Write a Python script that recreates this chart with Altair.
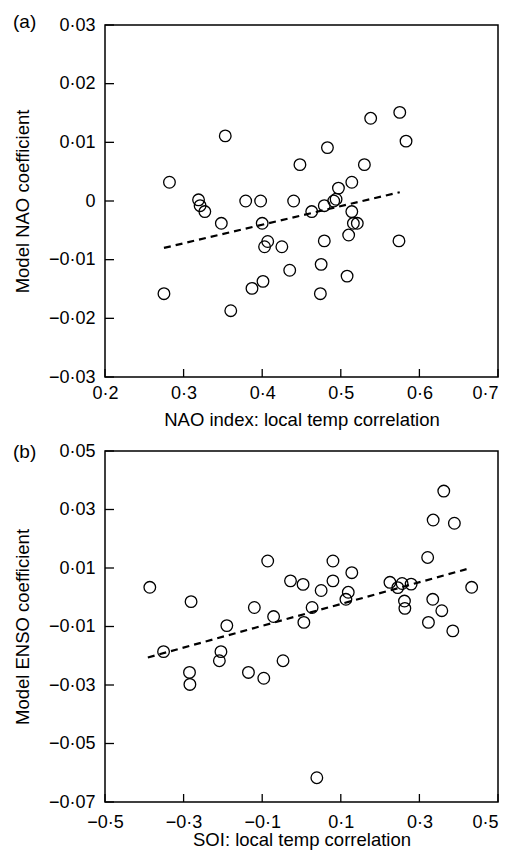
import altair as alt
import pandas as pd

FONT = "Liberation Sans"

# ---------- Panel (a): NAO ----------
nao_x = [0.282, 0.353, 0.319, 0.321, 0.327, 0.379, 0.398, 0.440, 0.448, 0.483,
         0.538, 0.575, 0.583, 0.530, 0.514, 0.497, 0.491, 0.494, 0.463, 0.479,
         0.514, 0.348, 0.400, 0.407, 0.403, 0.425, 0.516, 0.521, 0.510, 0.479,
         0.574, 0.475, 0.435, 0.508, 0.401, 0.387, 0.275, 0.474, 0.360]
nao_y = [0.0032, 0.0111, 0.0002, -0.0008, -0.0018, 0.0000, 0.0000, 0.0000, 0.0062, 0.0091,
         0.0141, 0.0151, 0.0102, 0.0062, 0.0032, 0.0022, 0.0000, 0.0003, -0.0018, -0.0008,
         -0.0018, -0.0038, -0.0038, -0.0069, -0.0078, -0.0078, -0.0038, -0.0038, -0.0058, -0.0068,
         -0.0068, -0.0108, -0.0118, -0.0128, -0.0137, -0.0149, -0.0158, -0.0158, -0.0187]
nao_trend_x = [0.275, 0.575]
nao_trend_y = [-0.0080, 0.0015]
nao_xticks = [0.2, 0.3, 0.4, 0.5, 0.6, 0.7]
nao_yticks = [-0.03, -0.02, -0.01, 0.0, 0.01, 0.02, 0.03]

# ---------- Panel (b): ENSO ----------
soi_x = [-0.386, -0.281, -0.190, -0.120, -0.086, -0.071, -0.028, 0.004, 0.006, 0.027,
         0.050, 0.080, 0.080, 0.113, 0.119, 0.128, 0.225, 0.245, 0.256, 0.279,
         0.262, 0.263, 0.321, 0.335, 0.362, 0.389, 0.334, 0.357, 0.323, 0.385,
         0.433, -0.351, -0.205, -0.209, -0.285, -0.284, -0.135, -0.096, -0.047, 0.039]
soi_y = [0.0034, -0.0015, -0.0097, -0.0035, 0.0124, -0.0066, 0.0056, 0.0044, -0.0086, -0.0035,
         0.0023, 0.0124, 0.0056, -0.0007, 0.0017, 0.0084, 0.0051, 0.0033, 0.0047, 0.0045,
         -0.0013, -0.0038, 0.0136, 0.0264, 0.0363, 0.0253, -0.0007, -0.0046, -0.0086, -0.0115,
         0.0034, -0.0186, -0.0186, -0.0217, -0.0257, -0.0298, -0.0257, -0.0277, -0.0217, -0.0617]
soi_trend_x = [-0.391, 0.420]
soi_trend_y = [-0.0206, 0.0096]
soi_xticks = [-0.5, -0.3, -0.1, 0.1, 0.3, 0.5]
soi_yticks = [-0.07, -0.05, -0.03, -0.01, 0.01, 0.03, 0.05]

W = 393


def lab(fmt):
    return ("abs(datum.value) < 1e-9 ? '0' : "
            f"replace(format(datum.value, '{fmt}'), '.', '·')")


def panel(xs, ys, tx, ty, xt, yt, xtitle, ytitle, tag, xfmt, yfmt, H,
          xlabpad, xtitlepad, tagy):
    xdom = [min(xt), max(xt)]
    ydom = [min(yt), max(yt)]
    xs_ = alt.Scale(domain=xdom, nice=False, zero=False)
    ys_ = alt.Scale(domain=ydom, nice=False, zero=False)
    last = max(xt) - 0.01
    xaxis = alt.Axis(values=xt, title=xtitle, labelExpr=lab(xfmt), ticks=False,
                     domain=False, grid=False, labelPadding=xlabpad, labelFlush=False,
                     labelOverlap=False, titlePadding=xtitlepad,
                     labelAlign={"condition": {"test": f"datum.value > {last}",
                                               "value": "right"},
                                 "value": "center"})
    yaxis = alt.Axis(values=yt, title=ytitle, labelExpr=lab(yfmt), ticks=False,
                     domain=False, grid=False, labelPadding=10, labelFlush=False,
                     labelOverlap=False, titlePadding=16)
    pts = alt.Chart(pd.DataFrame({"x": xs, "y": ys})).mark_point(
        shape="circle", filled=False, size=135, stroke="black",
        strokeWidth=1.3, opacity=1
    ).encode(x=alt.X("x:Q", scale=xs_, axis=xaxis),
             y=alt.Y("y:Q", scale=ys_, axis=yaxis))
    trend = alt.Chart(pd.DataFrame({"x": tx, "y": ty})).mark_line(
        color="black", strokeWidth=2.2, strokeDash=[7, 5]
    ).encode(x=alt.X("x:Q", scale=xs_, axis=xaxis),
             y=alt.Y("y:Q", scale=ys_, axis=yaxis))
    xtk = alt.Chart(pd.DataFrame({"x": xt})).mark_rule(
        color="black", strokeWidth=1.3
    ).encode(x=alt.X("x:Q", scale=xs_, axis=xaxis),
             y=alt.value(H), y2=alt.value(H - 8))
    ytk = alt.Chart(pd.DataFrame({"y": yt})).mark_rule(
        color="black", strokeWidth=1.3
    ).encode(y=alt.Y("y:Q", scale=ys_, axis=yaxis),
             x=alt.value(0), x2=alt.value(9))
    tg = alt.Chart(pd.DataFrame({"t": [tag]})).mark_text(
        align="left", baseline="middle", fontSize=19, font=FONT, color="black"
    ).encode(text="t:N", x=alt.value(-92), y=alt.value(tagy))
    return alt.layer(pts, trend, xtk, ytk, tg).properties(width=W, height=H)


a = panel(nao_x, nao_y, nao_trend_x, nao_trend_y, nao_xticks, nao_yticks,
          "NAO index: local temp correlation", "Model NAO coefficient", "(a)",
          ".1f", ".2f", 352, 7, 8, -3)
b = panel(soi_x, soi_y, soi_trend_x, soi_trend_y, soi_xticks, soi_yticks,
          "SOI: local temp correlation", "Model ENSO coefficient", "(b)",
          ".1f", ".2f", 351, 11, -1, 1)

chart = alt.vconcat(a, b, spacing=11).properties(
    padding={"left": 4, "top": 4, "right": 2, "bottom": 0},
    background="white"
).configure_view(stroke="black", strokeWidth=1.5).configure_axis(
    labelFont=FONT, labelFontSize=18, labelColor="black",
    titleFont=FONT, titleFontSize=18.5, titleColor="black", titleFontWeight="normal"
)

chart.save("out.html", embed_options={"renderer": "svg", "actions": False})
